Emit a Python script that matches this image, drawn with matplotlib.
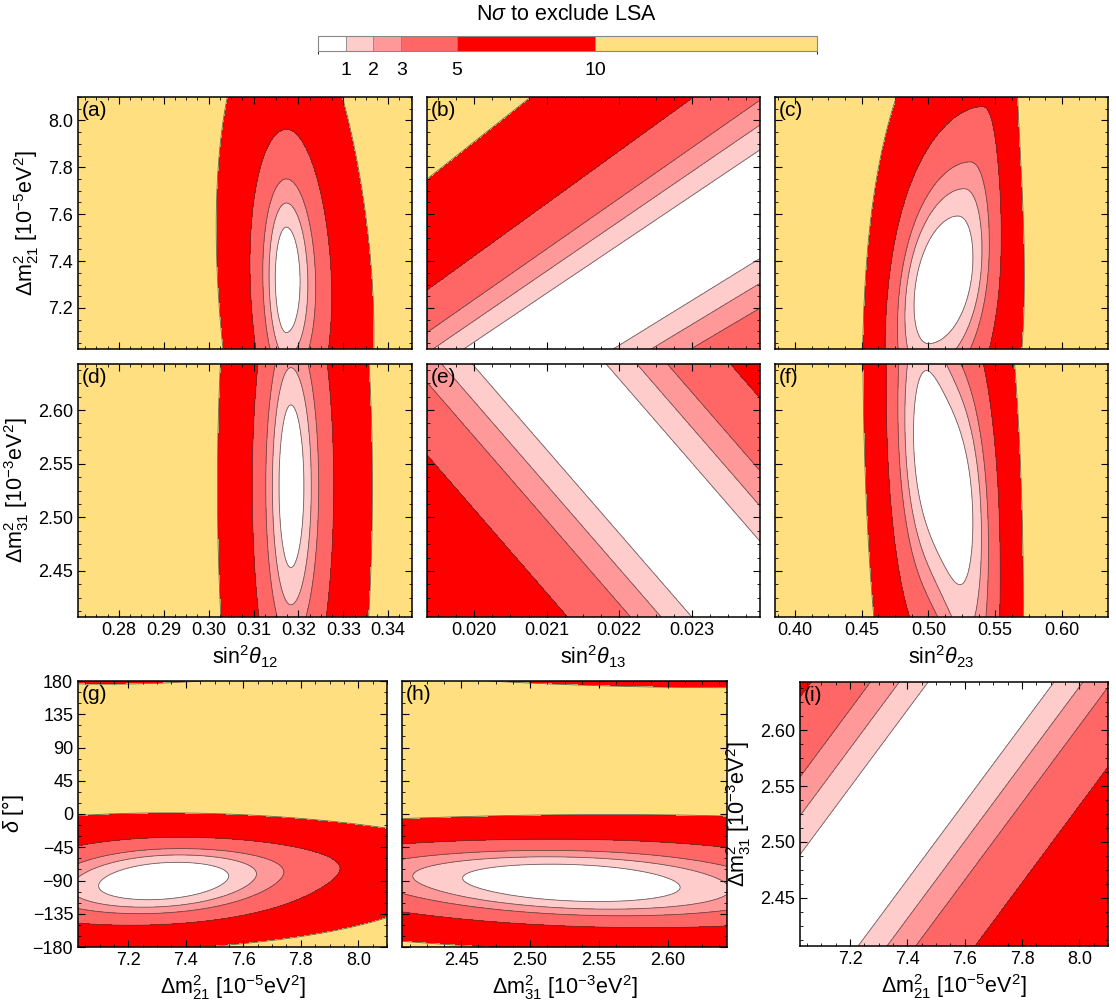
import math
import numpy as np
import matplotlib
matplotlib.use('Agg')
import matplotlib.pyplot as plt
from matplotlib.colors import ListedColormap, BoundaryNorm
from matplotlib.colorbar import ColorbarBase
from matplotlib.ticker import AutoMinorLocator, FixedLocator, FuncFormatter

plt.rcParams['font.family'] = ['Liberation Sans', 'DejaVu Sans']
plt.rcParams['mathtext.fontset'] = 'custom'
plt.rcParams['mathtext.rm'] = 'Liberation Sans'
plt.rcParams['mathtext.it'] = 'Liberation Sans:italic'
plt.rcParams['mathtext.bf'] = 'Liberation Sans:bold'

# ---- colour scale (N sigma) ----
N_SIGMA = [1, 2, 3, 5, 10]
CBAR_BOUNDS = [0, 1, 2, 3, 5, 10, 18]
COLORS = ['#FFFFFF', '#FFCCCC', '#FF9999', '#FF6666', '#FF0000', '#FFDF80']

# ---- axis ranges and ticks ----
S12_RANGE = (0.2709, 0.3453)
S13_RANGE = (0.01935, 0.02394)
S23_RANGE = (0.385, 0.6345)
DM21_RANGE = (7.025, 8.10)
DM31_RANGE = (2.407, 2.643)
DELTA_RANGE = (-180, 180)

S12_TICKS = [0.28, 0.29, 0.30, 0.31, 0.32, 0.33, 0.34]
S13_TICKS = [0.020, 0.021, 0.022, 0.023]
S23_TICKS = [0.40, 0.45, 0.50, 0.55, 0.60]
DM21_TICKS = [7.2, 7.4, 7.6, 7.8, 8.0]
DM31_TICKS = [2.45, 2.50, 2.55, 2.60]
DELTA_TICKS = [-180, -135, -90, -45, 0, 45, 90, 135, 180]

# ---- Delta chi^2 surfaces (a..i) ----
#           a        b        c       d        e        f      g      h      i
X0 = [0.3173, 0.02194, 0.511, 0.3183, 0.02182, 0.511, 7.323, 2.53, 7.5]
Y0 = [7.32, 7.244, 7.32, 2.529, 2.571, 2.537, -90.6, -93.0, 2.5767]
SXL = [0.00149, 1.0, 0.016, 0.00159, 1.0, 0.016, 0.108, 0.0405, 100.0]
SXR = [0.00186, 1.0, 0.0167, 0.00177, 1.0, 0.016, 0.108, 0.0405, 100.0]
SY = [0.1153, 0.110, 0.130, 0.0389, 0.0369, 0.0512, 18.5, 18.5, 0.0389]
PA = [2, 2, 3.6, 2, 2, 3.6, 2, 2, 2]          # profile exponent along x
WA = [0.5, 0, 0, 0.5, 0, 0, 4.0, 2.5, 0]      # flattening near minimum, x
PB = [2, 2, 2, 2, 2, 2, 2.9, 2.9, 2]          # profile exponent along y
WB = [2.5, 2.5, 4.0, 2.5, 2.5, 2.5, 0, 0, 2.5]
SHEAR_X = [0, 0, 0.04, 0, 0, -0.15, 0, 0, 0]      # x shift per unit y
SHEAR_Y = [0, 199.5, 0, 0, -78.0, 0, 30.0, -80.0, 0.345]  # y shift per unit x
WIDEN_L = [0.17, 0, 0.5, 0, 0, 0, 0, 0, 0]
WIDEN_R = [-0.177, 0, -0.65, 0, 0, 0, 0, 0, 0]
FAN = [0, 40.0, 0, 0, 0, 0, -0.08, 0.45, 0]
DECAY = [0, 0, 0, 0, 0, 1.8, 3.0, 3.5, 0]
PERIOD = [0, 0, 0, 0, 0, 0, 360, 360, 0]


def extent(c, p, w):
    # half size (in widths) of the Delta chi^2 = c contour for one parameter
    t = (c + np.sqrt(c * c + 4 * c * w)) / 2
    return t**(1.0 / p)


def dchi2(X, Y, i):
    dx = X - X0[i]
    dy = Y - Y0[i]
    if PERIOD[i]:
        dy = (dy + PERIOD[i] / 2) % PERIOD[i] - PERIOD[i] / 2
    sxm = 0.5 * (SXL[i] + SXR[i])
    wx = 1.0
    wy = 1.0
    if DECAY[i]:
        wx = 1 / (1 + (dx / sxm / DECAY[i])**2)
        wy = 1 / (1 + (dy / SY[i] / DECAY[i])**2)
    e = dx - SHEAR_X[i] * dy * wx
    f = dy - SHEAR_Y[i] * dx * wy
    if PERIOD[i]:
        f = (f + PERIOD[i] / 2) % PERIOD[i] - PERIOD[i] / 2
    sx = np.where(e < 0, SXL[i] * (1 + WIDEN_L[i] * dy),
                  SXR[i] * (1 + WIDEN_R[i] * dy))
    sx = np.maximum(sx, 0.2 * sxm)
    sy = np.maximum(SY[i] * (1 + FAN[i] * dx), 0.2 * SY[i])
    u = np.abs(e / sx)
    v = np.abs(f / sy)
    # contours are ellipses in (u, v) whose half axes follow each profile
    lo = np.full(u.shape, -10.0)
    hi = np.full(u.shape, 12.0)
    for _ in range(48):
        mid = 0.5 * (lo + hi)
        c = np.exp(mid)
        h = (u / extent(c, PA[i], WA[i]))**2 + (v / extent(c, PB[i], WB[i]))**2
        out = h > 1
        lo = np.where(out, mid, lo)
        hi = np.where(out, hi, mid)
    return np.exp(0.5 * (lo + hi))


# N sigma -> Delta chi^2 for two parameters
LEVELS = [0.0] + [-2 * math.log(math.erfc(n / math.sqrt(2))) for n in N_SIGMA] + [1e9]

DM21_LABEL = r'$\Delta\mathrm{m}^2_{21}$ [10$^{-5}$eV$^2$]'
DM31_LABEL = r'$\Delta\mathrm{m}^2_{31}$ [10$^{-3}$eV$^2$]'

# panel: (left, top, right, bottom) in pixels, x range, y range, ticks, labels
W, H = 1116, 1000
layout = {
    'a': ((78, 97, 412, 349), S12_RANGE, DM21_RANGE, S12_TICKS, DM21_TICKS, '%.2f', '%.1f', False, True, None, DM21_LABEL),
    'b': ((427, 97, 760, 349), S13_RANGE, DM21_RANGE, S13_TICKS, DM21_TICKS, '%.3f', '%.1f', False, False, None, None),
    'c': ((775, 97, 1108, 349), S23_RANGE, DM21_RANGE, S23_TICKS, DM21_TICKS, '%.2f', '%.1f', False, False, None, None),
    'd': ((78, 364, 412, 617), S12_RANGE, DM31_RANGE, S12_TICKS, DM31_TICKS, '%.2f', '%.2f', True, True, r'sin$^2\theta_{12}$', DM31_LABEL),
    'e': ((427, 364, 760, 617), S13_RANGE, DM31_RANGE, S13_TICKS, DM31_TICKS, '%.3f', '%.2f', True, False, r'sin$^2\theta_{13}$', None),
    'f': ((775, 364, 1108, 617), S23_RANGE, DM31_RANGE, S23_TICKS, DM31_TICKS, '%.2f', '%.2f', True, False, r'sin$^2\theta_{23}$', None),
    'g': ((78, 681, 387, 947), DM21_RANGE, DELTA_RANGE, DM21_TICKS, DELTA_TICKS, '%.1f', '%d', True, True, DM21_LABEL, r'$\delta$ [°]'),
    'h': ((402, 681, 727, 947), DM31_RANGE, DELTA_RANGE, DM31_TICKS, DELTA_TICKS, '%.2f', '%d', True, False, DM31_LABEL, None),
    'i': ((800, 682, 1108, 946), DM21_RANGE, DM31_RANGE, DM21_TICKS, DM31_TICKS, '%.1f', '%.2f', True, True, DM21_LABEL, DM31_LABEL),
}


def fmt(spec):
    return FuncFormatter(lambda v, p: (spec % v).replace('-', '\u2212'))


fig = plt.figure(figsize=(W / 100, H / 100), dpi=100)

for i, name in enumerate('abcdefghi'):
    (l, t, r, b), xr, yr, xt, yt, xf, yf, showx, showy, xlab, ylab = layout[name]
    ax = fig.add_axes([l / W, 1 - b / H, (r - l) / W, (b - t) / H])
    xs = np.linspace(xr[0], xr[1], 420)
    ys = np.linspace(yr[0], yr[1], 420)
    X, Y = np.meshgrid(xs, ys)
    Z = dchi2(X, Y, i)
    ax.contourf(X, Y, Z, levels=LEVELS, colors=COLORS)
    ax.contour(X, Y, Z, levels=LEVELS[1:-1], colors='#3c3c3c',
               linewidths=0.6, alpha=0.75)
    ax.set_xlim(xr)
    ax.set_ylim(yr)
    ax.xaxis.set_major_locator(FixedLocator(xt))
    ax.yaxis.set_major_locator(FixedLocator(yt))
    ax.xaxis.set_major_formatter(fmt(xf))
    ax.yaxis.set_major_formatter(fmt(yf))
    ax.xaxis.set_minor_locator(AutoMinorLocator(4))
    ax.yaxis.set_minor_locator(AutoMinorLocator(3 if yr == DELTA_RANGE else 4))
    ax.tick_params(which='both', direction='in', top=True, right=True,
                   labelsize=13, labelbottom=showx, labelleft=showy)
    ax.tick_params(which='major', length=5, width=0.8)
    ax.tick_params(which='minor', length=2.5, width=0.6)
    for s in ax.spines.values():
        s.set_linewidth(1.1)
    if xlab:
        ax.set_xlabel(xlab, fontsize=15.5, labelpad=3)
    if ylab:
        ax.set_ylabel(ylab, fontsize=15.5, labelpad=5)
    ax.text(0.012, 0.985, '(%s)' % name, transform=ax.transAxes,
            ha='left', va='top', fontsize=15)

# colour bar on top
cax = fig.add_axes([318 / W, 1 - 51 / H, 499 / W, 15 / H])
cb = ColorbarBase(cax, cmap=ListedColormap(COLORS),
                  norm=BoundaryNorm(CBAR_BOUNDS, len(COLORS)),
                  boundaries=CBAR_BOUNDS, spacing='proportional',
                  orientation='horizontal', ticks=N_SIGMA, drawedges=True)
cb.outline.set_edgecolor('#888888')
cb.outline.set_linewidth(0.8)
cb.dividers.set_color('#888888')
cb.dividers.set_linewidth(0.6)
cax.tick_params(length=0, pad=8, labelsize=14)
fig.text(567 / W, 1 - 14 / H, r'N$\sigma$ to exclude LSA', ha='center',
         va='center', fontsize=15.5)

fig.savefig('out.png', dpi=100)
